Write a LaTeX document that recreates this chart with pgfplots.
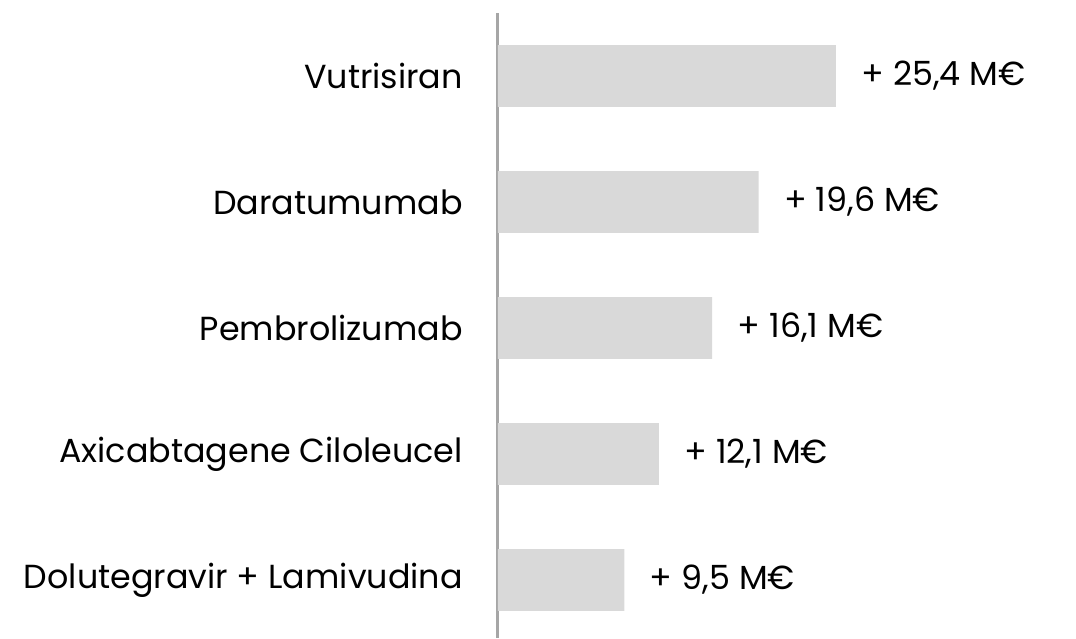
\documentclass[border=0pt]{standalone}
\usepackage{fontspec}
\setmainfont{Poppins}
\usepackage{pgfplots}
\pgfplotsset{compat=1.18}
\definecolor{barc}{HTML}{D9D9D9}
\definecolor{axc}{HTML}{A6A6A6}
\begin{document}
\begin{tikzpicture}
\begin{axis}[
  scale only axis,
  width=433.5pt, height=468.75pt,
  xmin=0, xmax=43.46,
  ymin=-0.46, ymax=4.5,
  xbar, bar width=0.49,
  axis x line=none,
  axis y line*=left,
  y axis line style={draw=axc, line width=2.25pt},
  ytick={0,1,2,3,4},
  yticklabels={Dolutegravir + Lamivudina, Axicabtagene Ciloleucel, Pembrolizumab, Daratumumab, Vutrisiran},
  ytick style={draw=none},
  yticklabel style={font=\fontsize{25}{29}\selectfont, inner sep=0pt, xshift=-22pt},
  point meta=explicit symbolic,
  nodes near coords,
  nodes near coords style={font=\fontsize{25}{29}\selectfont, anchor=west, inner sep=0pt, xshift=19pt},
  clip=false,
]
\addplot[draw=none, fill=barc] coordinates {
  (9.5,0) [+ 9,5 M€]
  (12.1,1) [+ 12,1 M€]
  (16.1,2) [+ 16,1 M€]
  (19.6,3) [+ 19,6 M€]
  (25.4,4) [+ 25,4 M€]
};
\end{axis}
\pgfresetboundingbox
\path ([xshift=-373.5pt]current axis.south west) rectangle ([yshift=9.75pt]current axis.north east);
\end{tikzpicture}
\end{document}
